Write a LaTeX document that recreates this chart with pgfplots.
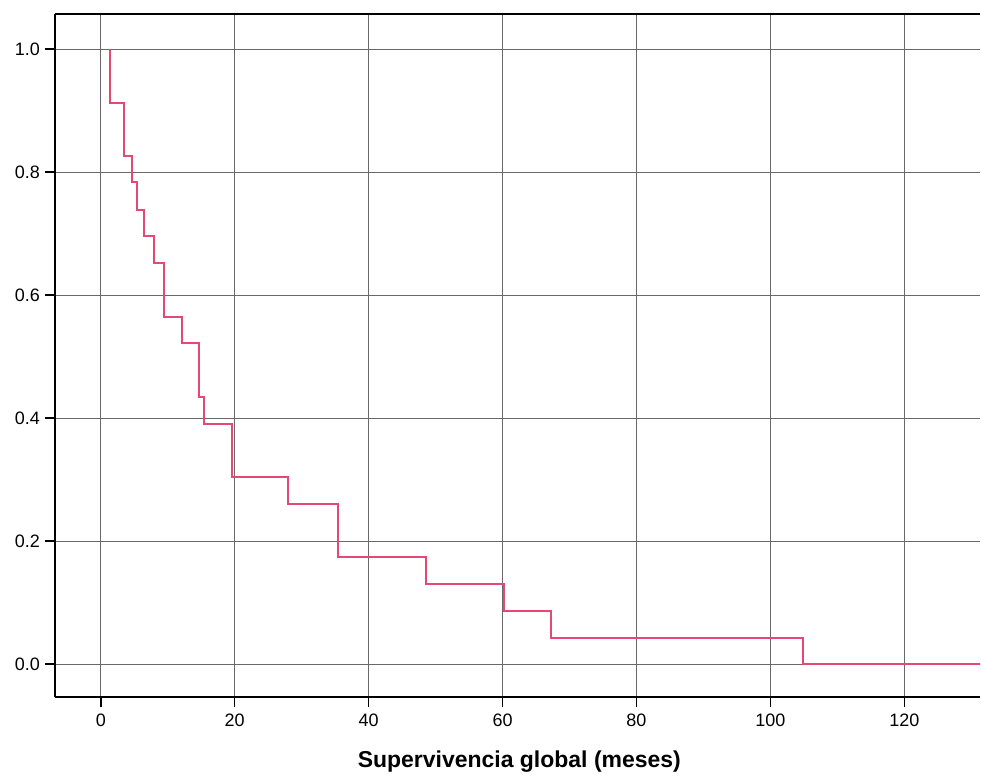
\documentclass[border=0pt]{standalone}
\usepackage{fontspec}
\setmainfont{Liberation Sans}
\usepackage{pgfplots}
\pgfplotsset{compat=1.18}
\definecolor{kmline}{RGB}{228,72,118}
\definecolor{gridc}{RGB}{105,105,105}
\begin{document}
\begin{tikzpicture}
\begin{axis}[
  width=463pt, height=342pt, scale only axis,
  xmin=-6.85, xmax=131.3, ymin=-0.054, ymax=1.057,
  separate axis lines, axis x line*=box, axis y line*=left,
  xtick={0,20,...,120}, ytick={0,0.2,...,1.0},
  grid=major, major grid style={draw=gridc, line width=0.5pt},
  axis line style={black, line width=1pt, -},
  tick align=outside, major tick length=5pt,
  tick style={black, line width=0.7pt},
  xtick pos=bottom, ytick pos=left,
  /pgf/number format/assume math mode=true,
  ticklabel style={font=\fontsize{9}{10}\selectfont},
  yticklabel style={xshift=1pt, /pgf/number format/.cd, fixed, fixed zerofill, precision=1},
  xlabel={\textbf{Supervivencia global (meses)}},
  xlabel style={font=\fontsize{11.5}{13}\selectfont, at={(axis description cs:0.502,0)}, anchor=center, yshift=-32pt},
]
\addplot[const plot, kmline, line width=1pt] coordinates {
(1.4,1.000) (1.4,0.913) (3.5,0.826) (4.6,0.783) (5.4,0.739) (6.5,0.696)
(7.9,0.652) (9.4,0.565) (12.1,0.522) (14.6,0.435) (15.4,0.391) (19.6,0.304)
(28.0,0.261) (35.4,0.174) (48.5,0.130) (60.2,0.087) (67.3,0.043) (104.8,0.000)
(132,0.000)
};
\end{axis}
\path ([xshift=-27.5pt,yshift=-39pt]current axis.south west) rectangle ([yshift=7pt]current axis.north east);
\end{tikzpicture}
\end{document}
